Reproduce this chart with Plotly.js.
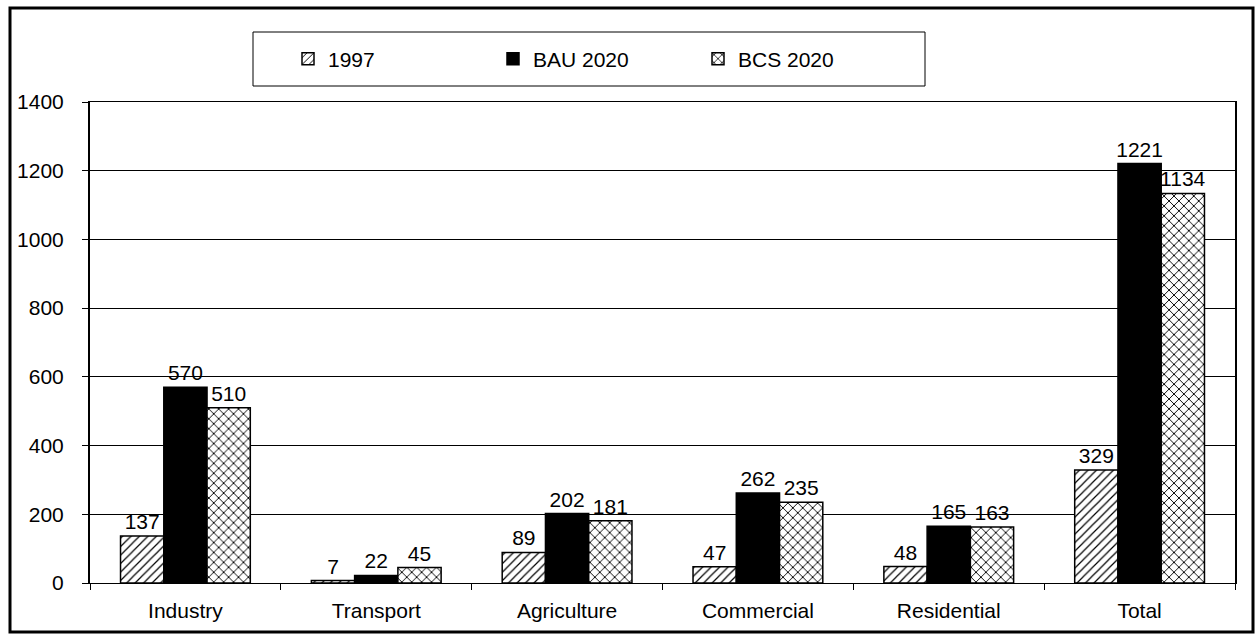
<!DOCTYPE html>
<html>
<head>
<meta charset="utf-8">
<script src="https://cdn.plot.ly/plotly-3.0.1.min.js"></script>
<style>
html,body{margin:0;padding:0;background:#fff;}
#chart{width:1259px;height:634px;}
</style>
</head>
<body>
<div id="chart"></div>
<script>
const categories = ["Industry", "Transport", "Agriculture", "Commercial", "Residential", "Total"];
const values1997 = [137, 7, 89, 47, 48, 329];
const valuesBAU2020 = [570, 22, 202, 262, 165, 1221];
const valuesBCS2020 = [510, 45, 181, 235, 163, 1134];
const seriesNames = ["1997", "BAU 2020", "BCS 2020"];
const yTicks = [0, 200, 400, 600, 800, 1000, 1200, 1400];

const FONT = "Liberation Sans, Arial, sans-serif";
const L = 90, R = 24, T = 102, B = 51, W = 1259, H = 634;
const pw = W - L - R, ph = H - T - B;
const px = x => (x - L) / pw;
const py = y => (H - B - y) / ph;

function barTrace(name, vals, pattern, color) {
  return {
    type: "bar",
    name: name,
    x: categories,
    y: vals,
    text: vals.map(String),
    textposition: "outside",
    textfont: {family: FONT, size: 21, color: "#000"},
    constraintext: "none",
    cliponaxis: false,
    marker: {
      color: color,
      line: {color: "#000", width: 1.5},
      pattern: pattern
    }
  };
}

const traces = [
  barTrace(seriesNames[0], values1997, {shape: "/", fgcolor: "#000", bgcolor: "#fff", size: 6, solidity: 0.2, fillmode: "replace"}, "#fff"),
  barTrace(seriesNames[1], valuesBAU2020, {shape: ""}, "#000"),
  barTrace(seriesNames[2], valuesBCS2020, {shape: "x", fgcolor: "#000", bgcolor: "#fff", size: 7, solidity: 0.25, fillmode: "replace"}, "#fff")
];

const layout = {
  width: W, height: H,
  margin: {l: L, r: R, t: T, b: B, pad: 0},
  paper_bgcolor: "#fff",
  plot_bgcolor: "#fff",
  font: {family: FONT, size: 21, color: "#000"},
  barmode: "group",
  bargap: 0.32,
  bargroupgap: 0,
  showlegend: true,
  legend: {
    orientation: "h",
    x: px(288), xanchor: "left",
    y: py(59), yanchor: "middle",
    bgcolor: "rgba(0,0,0,0)",
    borderwidth: 0,
    font: {family: FONT, size: 21, color: "#000"},
    entrywidth: 160,
    entrywidthmode: "pixels",
    traceorder: "normal"
  },
  xaxis: {
    type: "category",
    showline: true, linecolor: "#000", linewidth: 1, mirror: true,
    ticks: "outside", tickson: "boundaries", ticklen: 6, tickcolor: "#000",
    ticklabelstandoff: 9,
    tickfont: {family: FONT, size: 21, color: "#000"},
    showgrid: false,
    zeroline: false,
    fixedrange: true
  },
  yaxis: {
    range: [0, 1400],
    tickvals: yTicks,
    ticktext: yTicks.map(String),
    showline: true, linecolor: "#000", linewidth: 2, mirror: true,
    ticks: "outside", ticklen: 6, tickcolor: "#000",
    ticklabelstandoff: 14,
    tickfont: {family: FONT, size: 21, color: "#000"},
    showgrid: true, gridcolor: "#000", gridwidth: 1,
    zeroline: false,
    fixedrange: true
  },
  shapes: [
    {type: "rect", xref: "paper", yref: "paper", x0: px(10), x1: px(1253), y0: py(632), y1: py(8),
     line: {color: "#000", width: 3}, fillcolor: "rgba(0,0,0,0)", layer: "above"},
    {type: "rect", xref: "paper", yref: "paper", x0: px(253), x1: px(925), y0: py(86), y1: py(32),
     line: {color: "#000", width: 1}, fillcolor: "rgba(0,0,0,0)", layer: "below"}
  ]
};

Plotly.newPlot("chart", traces, layout, {displayModeBar: false, staticPlot: true});
</script>
</body>
</html>
